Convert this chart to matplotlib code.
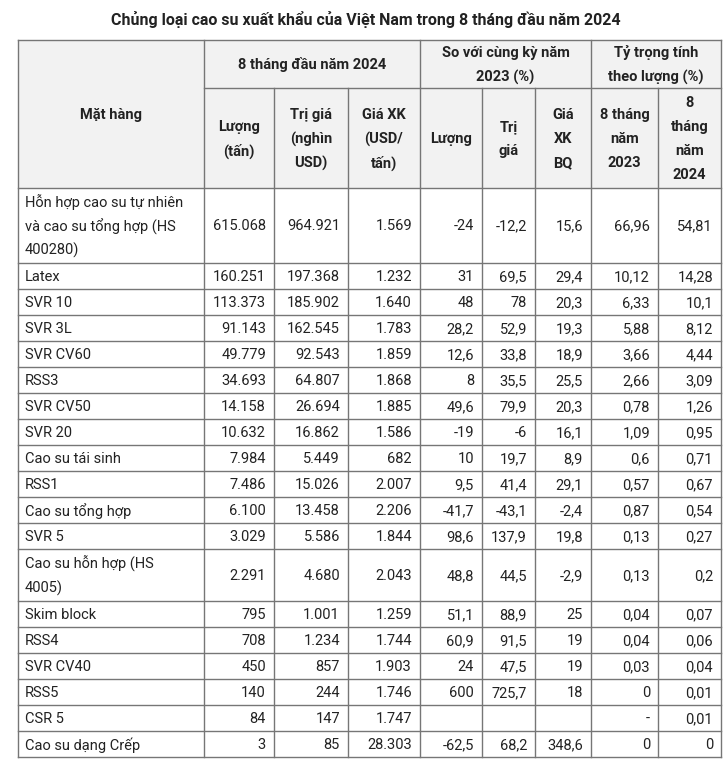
import matplotlib
matplotlib.use("Agg")
import matplotlib.pyplot as plt
from matplotlib.patches import Rectangle

plt.rcParams['font.family'] = ['Roboto', 'DejaVu Sans']

title = "Chủng loại cao su xuất khẩu của Việt Nam trong 8 tháng đầu năm 2024"

# Dữ liệu bảng
mat_hang = [
    "Hỗn hợp cao su tự nhiên\nvà cao su tổng hợp (HS\n400280)",
    "Latex", "SVR 10", "SVR 3L", "SVR CV60", "RSS3", "SVR CV50", "SVR 20",
    "Cao su tái sinh", "RSS1", "Cao su tổng hợp", "SVR 5",
    "Cao su hỗn hợp (HS\n4005)",
    "Skim block", "RSS4", "SVR CV40", "RSS5", "CSR 5", "Cao su dạng Crếp",
]
luong = ["615.068", "160.251", "113.373", "91.143", "49.779", "34.693", "14.158", "10.632",
         "7.984", "7.486", "6.100", "3.029", "2.291", "795", "708", "450", "140", "84", "3"]
tri_gia = ["964.921", "197.368", "185.902", "162.545", "92.543", "64.807", "26.694", "16.862",
           "5.449", "15.026", "13.458", "5.586", "4.680", "1.001", "1.234", "857", "244", "147", "85"]
gia_xk = ["1.569", "1.232", "1.640", "1.783", "1.859", "1.868", "1.885", "1.586",
          "682", "2.007", "2.206", "1.844", "2.043", "1.259", "1.744", "1.903", "1.746", "1.747", "28.303"]
ss_luong = ["-24", "31", "48", "28,2", "12,6", "8", "49,6", "-19",
            "10", "9,5", "-41,7", "98,6", "48,8", "51,1", "60,9", "24", "600", "", "-62,5"]
ss_tri_gia = ["-12,2", "69,5", "78", "52,9", "33,8", "35,5", "79,9", "-6",
              "19,7", "41,4", "-43,1", "137,9", "44,5", "88,9", "91,5", "47,5", "725,7", "", "68,2"]
ss_gia = ["15,6", "29,4", "20,3", "19,3", "18,9", "25,5", "20,3", "16,1",
          "8,9", "29,1", "-2,4", "19,8", "-2,9", "25", "19", "19", "18", "", "348,6"]
tt_2023 = ["66,96", "10,12", "6,33", "5,88", "3,66", "2,66", "0,78", "1,09",
           "0,6", "0,57", "0,87", "0,13", "0,13", "0,04", "0,04", "0,03", "0", "-", "0"]
tt_2024 = ["54,81", "14,28", "10,1", "8,12", "4,44", "3,09", "1,26", "0,95",
           "0,71", "0,67", "0,54", "0,27", "0,2", "0,07", "0,06", "0,04", "0,01", "0,01", "0"]

group_headers = ["8 tháng đầu năm 2024", "So với cùng kỳ năm\n2023 (%)", "Tỷ trọng tính\ntheo lượng (%)"]
sub_headers = ["Lượng\n(tấn)", "Trị giá\n(nghìn\nUSD)", "Giá XK\n(USD/\ntấn)",
               "Lượng", "Trị\ngiá", "Giá\nXK\nBQ", "8 tháng\nnăm\n2023", "8\ntháng\nnăm\n2024"]

columns = [mat_hang, luong, tri_gia, gia_xk, ss_luong, ss_tri_gia, ss_gia, tt_2023, tt_2024]

# Bố cục (pixel)
W, H = 725, 767
col_x = [18, 204, 274, 348, 420, 482, 535, 591, 658, 721]
top, mid, head_bot = 40, 88, 188
line_h = 24
row_h = {1: 26, 2: 52, 3: 75}
border = "#767676"
text_c = "#222222"
fs = 10.5

fig = plt.figure(figsize=(W / 100, H / 100), dpi=100)
ax = fig.add_axes([0, 0, 1, 1])
ax.set_xlim(0, W)
ax.set_ylim(H, 0)
ax.axis("off")


def lines_text(x, yc, txt, ha, bold=False):
    parts = txt.split("\n")
    n = len(parts)
    for i, p in enumerate(parts):
        y = yc + (i - (n - 1) / 2) * line_h
        ax.text(x, y, p, ha=ha, va="center", fontsize=fs, color=text_c,
                fontweight="bold" if bold else "normal")


ax.text(W / 2 + 3, 20, title, ha="center", va="center", fontsize=11.5,
        fontweight="bold", color=text_c)

# Nền phần tiêu đề
ax.add_patch(Rectangle((col_x[0], top), col_x[-1] - col_x[0], head_bot - top,
                       facecolor="#f2f2f2", edgecolor="none", zorder=0))

# Tiêu đề nhóm
lines_text((col_x[0] + col_x[1]) / 2, (top + head_bot) / 2 + 1, "Mặt hàng", "center", True)
groups = [(1, 4), (4, 7), (7, 9)]
for (a, b), g in zip(groups, group_headers):
    lines_text((col_x[a] + col_x[b]) / 2, (top + mid) / 2 + 1, g, "center", True)
for j, s in enumerate(sub_headers):
    lines_text((col_x[j + 1] + col_x[j + 2]) / 2, (mid + head_bot) / 2 + 1, s, "center", True)

# Dòng dữ liệu
row_edges = [head_bot]
for name in mat_hang:
    nl = name.count("\n") + 1
    row_edges.append(row_edges[-1] + row_h[nl])

for i in range(len(mat_hang)):
    yc = (row_edges[i] + row_edges[i + 1]) / 2 + 1
    for j, col in enumerate(columns):
        if j == 0:
            lines_text(col_x[0] + 7, yc, col[i], "left")
        else:
            lines_text(col_x[j + 1] - 8, yc, col[i], "right")

# Đường kẻ
lw = 1.0
for y in [top] + row_edges:
    ax.plot([col_x[0], col_x[-1]], [y, y], color=border, lw=lw)
ax.plot([col_x[1], col_x[-1]], [mid, mid], color=border, lw=lw)
bottom = row_edges[-1]
for k, x in enumerate(col_x):
    if k in (0, 1, 4, 7, 9):
        ax.plot([x, x], [top, bottom], color=border, lw=lw)
    else:
        ax.plot([x, x], [mid, bottom], color=border, lw=lw)

fig.savefig("out.png", dpi=100, facecolor="white")
